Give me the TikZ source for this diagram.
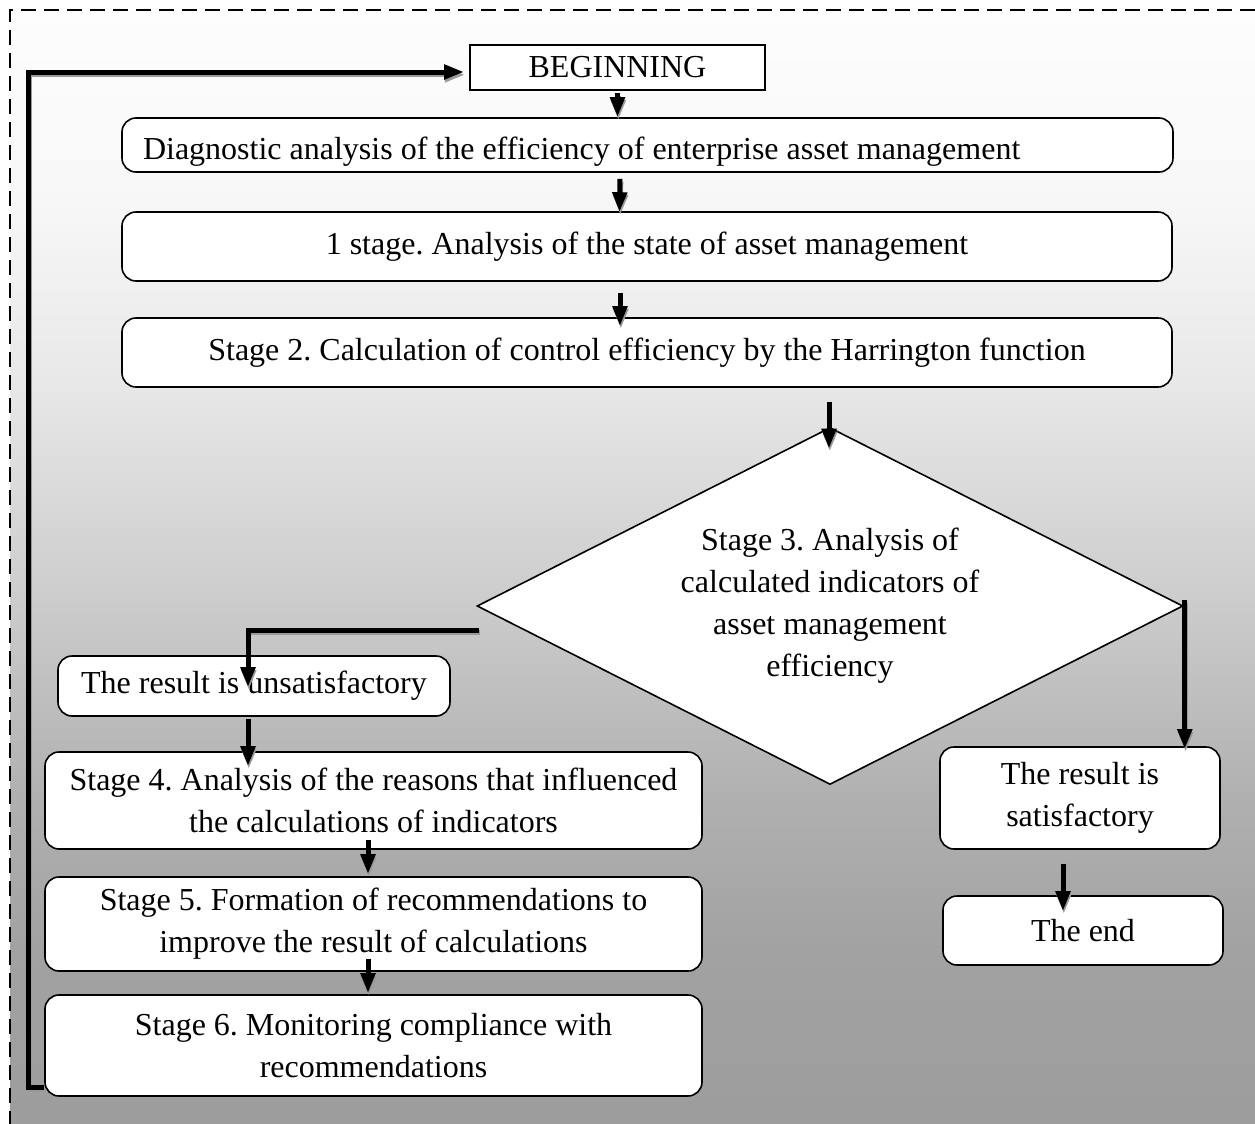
\documentclass[tikz,border=0pt]{standalone}
\usepackage{fontspec}
\setmainfont{Liberation Serif}
\usetikzlibrary{shapes.geometric,arrows.meta,calc}

% background greys, top to bottom
\definecolor{bgA}{gray}{0.992}
\definecolor{bgB}{gray}{0.970}
\definecolor{bgC}{gray}{0.910}
\definecolor{bgD}{gray}{0.800}
\definecolor{bgE}{gray}{0.690}
\definecolor{bgF}{gray}{0.635}
\definecolor{bgG}{gray}{0.615}

\pgfdeclareverticalshading{pagebg}{100bp}{%
  color(0bp)=(bgG); color(25bp)=(bgG); color(32.8bp)=(bgF);
  color(39.5bp)=(bgE); color(48.5bp)=(bgD); color(58.4bp)=(bgC);
  color(66.5bp)=(bgB); color(75bp)=(bgA); color(100bp)=(bgA)}

\newcommand\txtfont{\fontsize{16}{21}\selectfont\frenchspacing}

\tikzset{
  sqbox/.style={draw, line width=0.9pt, fill=white, inner sep=0pt,
    align=center, font=\txtfont},
  rbox/.style={draw, line width=0.8pt, fill=white, rounded corners=7pt,
    inner sep=0pt, align=center, font=\txtfont},
  decision/.style={draw, line width=0.8pt, fill=white, diamond, aspect=2,
    inner sep=0pt, align=center, font=\txtfont},
  flow/.style={line width=2.5pt, black, -{Triangle[length=10pt,width=7pt]}},
  flowshadow/.style={line width=2.5pt, black!40, -{Triangle[length=10pt,width=7pt]},
    transform canvas={shift={(0.4pt,-1.4pt)}}},
  frame/.style={line width=0.8pt, dash pattern=on 7.5pt off 4pt}
}

% thick connector with a grey drop shadow
\newcommand\flowarrow[1]{%
  \draw[flowshadow] #1;
  \draw[flow] #1;}

\begin{document}
\frenchspacing
\begin{tikzpicture}[x=0.5pt, y=-0.5pt]
  \useasboundingbox (0,0) rectangle (1255,1124);

  % shaded page with dashed frame
  \shade[shading=pagebg] (10,10) rectangle (1255,1124);
  \draw[frame] (1255,10) -- (10,10) -- (10,1124);

  % boxes
  \node[sqbox, minimum width=147.5pt, minimum height=22.5pt] (begin) at (617.5,67.5) {BEGINNING};
  \node[rbox, minimum width=525.5pt, minimum height=27pt, text width=504.5pt,
        align=flush left, text height=16pt, text depth=2pt] (diag) at (647.5,145)
        {Diagnostic analysis of the efficiency of enterprise asset management};
  \node[rbox, minimum width=525pt, minimum height=34.5pt] (stA) at (647,246.5)
        {1 stage. Analysis of the state of asset management};
  \node[rbox, minimum width=525pt, minimum height=34.5pt] (stB) at (647,352.5)
        {Stage 2. Calculation of control efficiency by the Harrington function};
  \node[decision, minimum width=353pt, minimum height=178.5pt] (dia) at (830,606)
        {Stage 3. Analysis of\\calculated indicators of\\asset management\\efficiency};
  \node[rbox, minimum width=196pt, minimum height=30pt] (unsat) at (254,686)
        {The result is unsatisfactory};
  \node[rbox, minimum width=328.5pt, minimum height=48.5pt] (stD) at (373.5,800.5)
        {Stage 4. Analysis of the reasons that influenced\\the calculations of indicators};
  \node[rbox, minimum width=328.5pt, minimum height=47pt] (stE) at (373.5,924)
        {Stage 5. Formation of recommendations to\\improve the result of calculations};
  \node[rbox, minimum width=328.5pt, minimum height=50.5pt] (stF) at (373.5,1045.5)
        {Stage 6. Monitoring compliance with\\recommendations};
  \node[rbox, minimum width=140pt, minimum height=51pt] (sat) at (1080,798)
        {The result is\\satisfactory};
  \node[rbox, minimum width=140pt, minimum height=34.5pt] (fin) at (1083,930.5)
        {The end};

  % connectors
  \flowarrow{($(begin.south)+(0,2)$) -- (begin.south |- diag.north)}
  \flowarrow{($(diag.south)+(-27.5,6)$) -- ($(stA.north)+(-27.5,1)$)}
  \flowarrow{($(stA.south)+(-27,11)$) -- ($(stB.north)+(-27,9)$)}
  \flowarrow{($(stB.south)+(182,14)$) -- ($(dia.north)+(-1,22)$)}
  \flowarrow{($(dia.west)+(3,24)$) -| ($(unsat.north)+(-6,32)$)}
  \flowarrow{($(unsat.south)+(-6,2)$) -- ($(stD.north)+(-125.5,15)$)}
  \flowarrow{($(stD.south)+(-5.5,-10)$) -- ($(stE.north)+(-5.5,-2)$)}
  \flowarrow{($(stE.south)+(-5.5,-13)$) -- ($(stF.north)+(-5.5,-1)$)}
  \flowarrow{($(dia.east)+(1,-6)$) -- ($(dia.east |- sat.north)+(1,3)$)}
  \flowarrow{($(sat.south)+(-17,14)$) -- ($(fin.north)+(-20,16)$)}
  \flowarrow{($(stF.west)+(0,41.5)$) -- ++(-16,0) |- ($(begin.west)+(-5,4.5)$)}
\end{tikzpicture}
\end{document}
